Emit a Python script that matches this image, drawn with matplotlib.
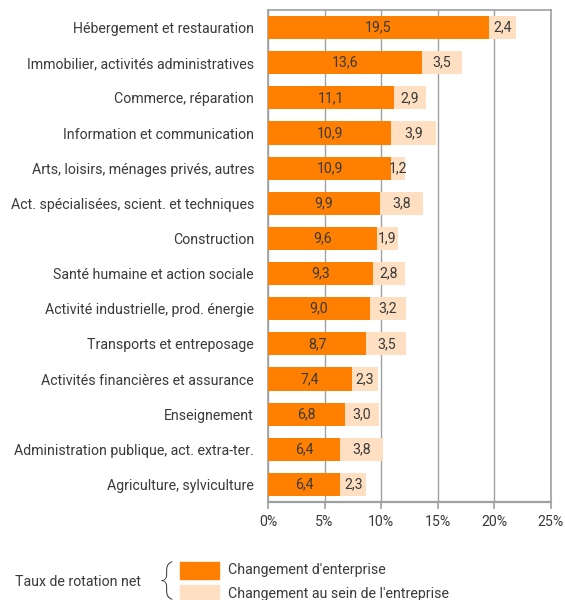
import matplotlib
matplotlib.use('Agg')
import matplotlib.pyplot as plt
from matplotlib.patches import Rectangle

# data
categories = [
    "Hébergement et restauration",
    "Immobilier, activités administratives",
    "Commerce, réparation",
    "Information et communication",
    "Arts, loisirs, ménages privés, autres",
    "Act. spécialisées, scient. et techniques",
    "Construction",
    "Santé humaine et action sociale",
    "Activité industrielle, prod. énergie",
    "Transports et entreposage",
    "Activités financières et assurance",
    "Enseignement",
    "Administration publique, act. extra-ter.",
    "Agriculture, sylviculture",
]
changement_entreprise = [19.5, 13.6, 11.1, 10.9, 10.9, 9.9, 9.6, 9.3, 9.0, 8.7, 7.4, 6.8, 6.4, 6.4]
changement_interne = [2.4, 3.5, 2.9, 3.9, 1.2, 3.8, 1.9, 2.8, 3.2, 3.5, 2.3, 3.0, 3.8, 2.3]
x_ticks = [0, 5, 10, 15, 20, 25]
x_tick_labels = ["0%", "5%", "10%", "15%", "20%", "25%"]

ORANGE = '#FF8000'
PEACH = '#FFDFC2'
TEXT = '#3A3A3A'
GRID = '#A0A0A0'
FS = 10.2

plt.rcParams['font.family'] = ['Roboto', 'DejaVu Sans']
plt.rcParams['font.size'] = FS

fig = plt.figure(figsize=(5.65, 6.0), dpi=100)
ax = fig.add_axes([0.4743, 0.1633, 0.5009, 0.82])

y = list(range(len(categories)))
bar_h = 0.66
ax.barh(y, changement_entreprise, height=bar_h, color=ORANGE, zorder=3)
ax.barh(y, changement_interne, left=changement_entreprise, height=bar_h, color=PEACH, zorder=3)

for i, (a, b) in enumerate(zip(changement_entreprise, changement_interne)):
    ax.text(a / 2, i, f"{a:.1f}".replace('.', ','), ha='center', va='center',
            color=TEXT, fontsize=FS, zorder=4)
    ax.text(a + b / 2, i, f"{b:.1f}".replace('.', ','), ha='center', va='center',
            color=TEXT, fontsize=FS, zorder=4)

ax.set_xlim(0, 25)
ax.set_ylim(len(categories) - 0.5, -0.5)
ax.set_xticks(x_ticks)
ax.set_xticklabels(x_tick_labels, color=TEXT, fontsize=FS)
ax.set_yticks(y)
ax.set_yticklabels(categories, color=TEXT, fontsize=FS)
ax.tick_params(axis='y', length=0, pad=10)
ax.tick_params(axis='x', length=5, color=GRID, width=1.2, pad=4)

ax.grid(axis='x', color=GRID, linewidth=1, zorder=0)
for side in ['top', 'right', 'left', 'bottom']:
    ax.spines[side].set_color(GRID)
    ax.spines[side].set_linewidth(1.2)
ax.spines['bottom'].set_linewidth(1.6)

# legend
fig.text(15 / 565, 1 - 582 / 600, "Taux de rotation net", color=TEXT, fontsize=FS,
         ha='left', va='center')
fig.text(160 / 565, 1 - 581 / 600, "{", color=TEXT, fontsize=28, ha='left', va='center',
         fontweight='light')
fig.patches.append(Rectangle((180 / 565, 1 - 579 / 600), 39 / 565, 17 / 600,
                             transform=fig.transFigure, color=ORANGE))
fig.patches.append(Rectangle((180 / 565, 1 - 602 / 600), 39 / 565, 17 / 600,
                             transform=fig.transFigure, color=PEACH))
fig.text(228 / 565, 1 - 570 / 600, "Changement d'enterprise", color=TEXT, fontsize=FS,
         ha='left', va='center')
fig.text(228 / 565, 1 - 594 / 600, "Changement au sein de l'entreprise", color=TEXT,
         fontsize=FS, ha='left', va='center')

fig.savefig('out.png', dpi=100)
